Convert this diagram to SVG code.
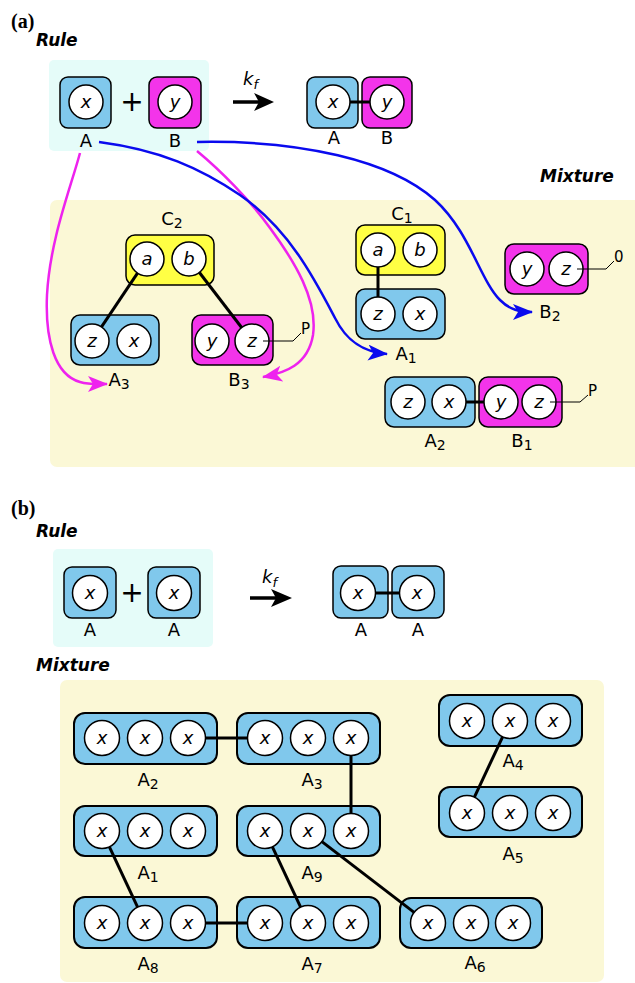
<svg xmlns="http://www.w3.org/2000/svg" width="635" height="983" viewBox="0 0 635 983">
<style>
.bg{fill:#fff}
.rulebox{fill:#e5fcf9}
.mixbox{fill:#fbf8d6}
.mb{fill:#80c8ec;stroke:#000;stroke-width:1.5}
.mm{fill:#f334ea;stroke:#000;stroke-width:1.5}
.my{fill:#ffff44;stroke:#000;stroke-width:1.5}
.mb2{fill:#80c8ec;stroke:#000;stroke-width:2}
.site{fill:#fff;stroke:#000;stroke-width:1.5}
.sl{font-family:"DejaVu Sans",sans-serif;font-style:italic;font-size:18px;text-anchor:middle}
.sl2{font-family:"DejaVu Sans",sans-serif;font-style:italic;font-size:18px;text-anchor:middle}
.lbl{font-family:"DejaVu Sans",sans-serif;font-size:18px;text-anchor:middle}
.lbl2{font-family:"DejaVu Sans",sans-serif;font-size:18px;text-anchor:middle}
.sub{font-size:14px}
.head{font-family:"DejaVu Sans",sans-serif;font-weight:bold;font-style:italic;font-size:17px}
.pl{font-family:"Liberation Serif",serif;font-weight:bold;font-size:20px}
.bond{stroke:#000;stroke-width:3;fill:none}
.tag{stroke:#000;stroke-width:1;fill:none}
.tagt{font-family:"DejaVu Sans",sans-serif;font-size:15px}
.plus{font-family:"DejaVu Sans",sans-serif;font-size:28px;text-anchor:middle}
.kf{font-family:"DejaVu Sans",sans-serif;font-style:italic;font-size:18px}
.kfs{font-size:13px}
.mag{stroke:#ee22ee;stroke-width:2.5;fill:none;marker-end:url(#mh)}
.blu{stroke:#0a0aee;stroke-width:2.5;fill:none;marker-end:url(#bh)}
</style>
<defs>
<marker id="mh" viewBox="0 0 20 16" refX="19" refY="8" markerWidth="20" markerHeight="16" markerUnits="userSpaceOnUse" orient="auto"><path d="M0,0 L20,8 L0,16 L5,8 Z" fill="#ee22ee"/></marker>
<marker id="bh" viewBox="0 0 20 16" refX="19" refY="8" markerWidth="20" markerHeight="16" markerUnits="userSpaceOnUse" orient="auto"><path d="M0,0 L20,8 L0,16 L5,8 Z" fill="#0a0aee"/></marker>
</defs>
<rect class="bg" x="0" y="0" width="635" height="983"/>

<!-- Panel (a) -->
<text class="pl" x="11" y="28">(a)</text>
<text class="head" x="36" y="46">Rule</text>
<rect class="rulebox" x="49" y="60" width="160" height="91" rx="5"/>
<text class="head" x="540" y="182">Mixture</text>
<rect class="mixbox" x="50" y="200" width="600" height="267" rx="7"/>

<g id="a-rule-A">
<rect class="mb" x="60" y="77" width="51" height="51" rx="8"/>
<circle class="site" cx="86" cy="102" r="17"/>
<text class="sl" x="86" y="108">x</text>
<text class="lbl" x="86" y="147">A</text>
</g>
<text class="plus" x="132" y="111">+</text>
<g id="a-rule-B">
<rect class="mm" x="149" y="77" width="52" height="51" rx="8"/>
<circle class="site" cx="175" cy="102" r="17"/>
<text class="sl" x="175" y="108">y</text>
<text class="lbl" x="175" y="147">B</text>
</g>
<g id="a-reaction">
<text class="kf" x="243" y="85">k<tspan class="kfs" dy="4">f</tspan></text>
<path d="M233,102 H262" stroke="#000" stroke-width="3.5"/>
<path d="M274,102 L254,93 L259,102 L254,111 Z" fill="#000"/>
</g>
<g id="a-prod-A">
<rect class="mb" x="307" y="77" width="51" height="51" rx="8"/>
<circle class="site" cx="333" cy="102" r="17"/>
<text class="sl" x="333" y="108">x</text>
<text class="lbl" x="334" y="144">A</text>
</g>
<g id="a-prod-B">
<rect class="mm" x="362" y="77" width="50" height="51" rx="8"/>
<circle class="site" cx="387" cy="102" r="17"/>
<text class="sl" x="387" y="108">y</text>
<text class="lbl" x="387" y="144">B</text>
</g>

<g id="a-C2">
<rect class="my" x="126" y="235" width="88" height="50" rx="9"/>
<circle class="site" cx="147" cy="259" r="17"/>
<circle class="site" cx="189" cy="259" r="17"/>
<text class="sl" x="147" y="265">a</text>
<text class="sl" x="189" y="265">b</text>
<text class="lbl" x="172" y="225">C<tspan class="sub" dy="3">2</tspan></text>
</g>
<g id="a-A3">
<rect class="mb" x="71" y="315" width="88" height="50" rx="9"/>
<circle class="site" cx="92" cy="341" r="17"/>
<circle class="site" cx="134" cy="341" r="17"/>
<text class="sl" x="92" y="347">z</text>
<text class="sl" x="134" y="347">x</text>
<text class="lbl" x="119" y="386">A<tspan class="sub" dy="3">3</tspan></text>
</g>
<g id="a-B3">
<rect class="mm" x="192" y="315" width="81" height="50" rx="9"/>
<circle class="site" cx="212" cy="341" r="17"/>
<circle class="site" cx="252" cy="341" r="17"/>
<text class="sl" x="212" y="347">y</text>
<text class="sl" x="252" y="347">z</text>
<path class="tag" d="M263,341 H293 L301,333"/>
<text class="tagt" x="301" y="334">P</text>
<text class="lbl" x="239" y="386">B<tspan class="sub" dy="3">3</tspan></text>
</g>
<g id="a-C1">
<rect class="my" x="356" y="225" width="89" height="50" rx="9"/>
<circle class="site" cx="378" cy="250" r="17"/>
<circle class="site" cx="420" cy="250" r="17"/>
<text class="sl" x="378" y="256">a</text>
<text class="sl" x="420" y="256">b</text>
<text class="lbl" x="402" y="220">C<tspan class="sub" dy="3">1</tspan></text>
</g>
<g id="a-A1">
<rect class="mb" x="356" y="289" width="89" height="50" rx="9"/>
<circle class="site" cx="378" cy="314" r="17"/>
<circle class="site" cx="420" cy="314" r="17"/>
<text class="sl" x="378" y="320">z</text>
<text class="sl" x="420" y="320">x</text>
<text class="lbl" x="406" y="360">A<tspan class="sub" dy="3">1</tspan></text>
</g>
<g id="a-B2">
<rect class="mm" x="505" y="244" width="83" height="50" rx="9"/>
<circle class="site" cx="527" cy="269" r="17"/>
<circle class="site" cx="566" cy="269" r="17"/>
<text class="sl" x="527" y="275">y</text>
<text class="sl" x="566" y="275">z</text>
<path class="tag" d="M577,269 H606 L614,261"/>
<text class="tagt" x="614" y="262">0</text>
<text class="lbl" x="550" y="318">B<tspan class="sub" dy="3">2</tspan></text>
</g>
<g id="a-A2">
<rect class="mb" x="385" y="377" width="90" height="50" rx="9"/>
<circle class="site" cx="408" cy="402" r="17"/>
<circle class="site" cx="449" cy="402" r="17"/>
<text class="sl" x="408" y="408">z</text>
<text class="sl" x="449" y="408">x</text>
<text class="lbl" x="435" y="447">A<tspan class="sub" dy="3">2</tspan></text>
</g>
<g id="a-B1">
<rect class="mm" x="479" y="377" width="83" height="50" rx="9"/>
<circle class="site" cx="501" cy="402" r="17"/>
<circle class="site" cx="539" cy="402" r="17"/>
<text class="sl" x="501" y="408">y</text>
<text class="sl" x="539" y="408">z</text>
<path class="tag" d="M550,402 H580 L588,395"/>
<text class="tagt" x="588" y="396">P</text>
<text class="lbl" x="522" y="447">B<tspan class="sub" dy="3">1</tspan></text>
</g>

<g id="a-connectors">
<path class="bond" d="M350,102 H370"/>
<path class="bond" d="M137.5,273.1 L101.5,326.9"/>
<path class="bond" d="M199.4,272.5 L241.6,327.5"/>
<path class="bond" d="M378,267 V297"/>
<path class="bond" d="M466,402 H484"/>
<path class="mag" d="M80,153 C70,190 50,240 47,295 C45,340 55,375 80,382 C90,385 98,384 107,384"/>
<path class="mag" d="M197,151 C220,170 250,200 270,228 C295,262 318,300 313,335 C308,365 285,373 263,377"/>
<path class="blu" d="M99,142 C160,150 200,168 240,195 C290,230 315,280 335,318 C345,338 360,352 387,354"/>
<path class="blu" d="M197,142 C300,140 390,160 435,200 C470,232 480,280 500,300 C510,310 520,312 532,312"/>
</g>

<!-- Panel (b) -->
<text class="pl" x="11" y="515">(b)</text>
<text class="head" x="36" y="537">Rule</text>
<rect class="rulebox" x="53" y="549" width="160" height="98" rx="5"/>
<text class="head" x="36" y="671">Mixture</text>
<rect class="mixbox" x="60" y="680" width="544" height="302" rx="7"/>

<g id="b-rule-A1">
<rect class="mb" x="64" y="567" width="52" height="51" rx="8"/>
<circle class="site" cx="90" cy="593" r="17.5"/>
<text class="sl" x="90" y="599">x</text>
<text class="lbl2" x="90" y="636">A</text>
</g>
<text class="plus" x="132" y="602">+</text>
<g id="b-rule-A2">
<rect class="mb" x="148" y="567" width="52" height="51" rx="8"/>
<circle class="site" cx="174" cy="593" r="17.5"/>
<text class="sl" x="174" y="599">x</text>
<text class="lbl2" x="174" y="636">A</text>
</g>
<g id="b-reaction">
<text class="kf" x="262" y="583">k<tspan class="kfs" dy="4">f</tspan></text>
<path d="M250,598 H280" stroke="#000" stroke-width="3.5"/>
<path d="M292,598 L271,589 L276,598 L271,607 Z" fill="#000"/>
</g>
<g id="b-prod-A1">
<rect class="mb" x="333" y="566" width="55" height="52" rx="8"/>
<circle class="site" cx="358" cy="593" r="17.5"/>
<text class="sl" x="358" y="599">x</text>
<text class="lbl2" x="361" y="636">A</text>
</g>
<g id="b-prod-A2">
<rect class="mb" x="392" y="566" width="52" height="52" rx="8"/>
<circle class="site" cx="417" cy="593" r="17.5"/>
<text class="sl" x="417" y="599">x</text>
<text class="lbl2" x="418" y="636">A</text>
</g>

<g id="b-A2">
<rect class="mb2" x="74" y="713" width="143" height="51" rx="11"/>
<circle class="site" cx="102" cy="738" r="17.5"/><circle class="site" cx="145" cy="738" r="17.5"/><circle class="site" cx="188" cy="738" r="17.5"/>
<text class="sl2" x="102" y="744">x</text><text class="sl2" x="145" y="744">x</text><text class="sl2" x="188" y="744">x</text>
<text class="lbl2" x="148" y="786">A<tspan class="sub" dy="3">2</tspan></text>
</g>
<g id="b-A3">
<rect class="mb2" x="237" y="713" width="143" height="51" rx="11"/>
<circle class="site" cx="265" cy="738" r="17.5"/><circle class="site" cx="308" cy="738" r="17.5"/><circle class="site" cx="351" cy="738" r="17.5"/>
<text class="sl2" x="265" y="744">x</text><text class="sl2" x="308" y="744">x</text><text class="sl2" x="351" y="744">x</text>
<text class="lbl2" x="312" y="786">A<tspan class="sub" dy="3">3</tspan></text>
</g>
<g id="b-A1">
<rect class="mb2" x="74" y="806" width="143" height="50" rx="11"/>
<circle class="site" cx="102" cy="831" r="17.5"/><circle class="site" cx="145" cy="831" r="17.5"/><circle class="site" cx="188" cy="831" r="17.5"/>
<text class="sl2" x="102" y="837">x</text><text class="sl2" x="145" y="837">x</text><text class="sl2" x="188" y="837">x</text>
<text class="lbl2" x="148" y="879">A<tspan class="sub" dy="3">1</tspan></text>
</g>
<g id="b-A9">
<rect class="mb2" x="237" y="806" width="143" height="50" rx="11"/>
<circle class="site" cx="265" cy="831" r="17.5"/><circle class="site" cx="308" cy="831" r="17.5"/><circle class="site" cx="351" cy="831" r="17.5"/>
<text class="sl2" x="265" y="837">x</text><text class="sl2" x="308" y="837">x</text><text class="sl2" x="351" y="837">x</text>
<text class="lbl2" x="312" y="879">A<tspan class="sub" dy="3">9</tspan></text>
</g>
<g id="b-A8">
<rect class="mb2" x="74" y="897" width="143" height="51" rx="11"/>
<circle class="site" cx="102" cy="923" r="17.5"/><circle class="site" cx="145" cy="923" r="17.5"/><circle class="site" cx="188" cy="923" r="17.5"/>
<text class="sl2" x="102" y="929">x</text><text class="sl2" x="145" y="929">x</text><text class="sl2" x="188" y="929">x</text>
<text class="lbl2" x="148" y="970">A<tspan class="sub" dy="3">8</tspan></text>
</g>
<g id="b-A7">
<rect class="mb2" x="237" y="897" width="143" height="51" rx="11"/>
<circle class="site" cx="265" cy="923" r="17.5"/><circle class="site" cx="308" cy="923" r="17.5"/><circle class="site" cx="351" cy="923" r="17.5"/>
<text class="sl2" x="265" y="929">x</text><text class="sl2" x="308" y="929">x</text><text class="sl2" x="351" y="929">x</text>
<text class="lbl2" x="312" y="970">A<tspan class="sub" dy="3">7</tspan></text>
</g>
<g id="b-A4">
<rect class="mb2" x="439" y="695" width="143" height="51" rx="11"/>
<circle class="site" cx="467" cy="721" r="17.5"/><circle class="site" cx="510" cy="721" r="17.5"/><circle class="site" cx="553" cy="721" r="17.5"/>
<text class="sl2" x="467" y="727">x</text><text class="sl2" x="510" y="727">x</text><text class="sl2" x="553" y="727">x</text>
<text class="lbl2" x="513" y="767">A<tspan class="sub" dy="3">4</tspan></text>
</g>
<g id="b-A5">
<rect class="mb2" x="439" y="787" width="143" height="50" rx="11"/>
<circle class="site" cx="467" cy="813" r="17.5"/><circle class="site" cx="510" cy="813" r="17.5"/><circle class="site" cx="553" cy="813" r="17.5"/>
<text class="sl2" x="467" y="819">x</text><text class="sl2" x="510" y="819">x</text><text class="sl2" x="553" y="819">x</text>
<text class="lbl2" x="513" y="860">A<tspan class="sub" dy="3">5</tspan></text>
</g>
<g id="b-A6">
<rect class="mb2" x="400" y="898" width="142" height="50" rx="11"/>
<circle class="site" cx="428" cy="923" r="17.5"/><circle class="site" cx="471" cy="923" r="17.5"/><circle class="site" cx="513" cy="923" r="17.5"/>
<text class="sl2" x="428" y="929">x</text><text class="sl2" x="471" y="929">x</text><text class="sl2" x="513" y="929">x</text>
<text class="lbl2" x="475" y="969">A<tspan class="sub" dy="3">6</tspan></text>
</g>

<g id="b-connectors">
<path class="bond" d="M375.5,593 H399.5"/>
<path class="bond" d="M205.5,738 H247.5"/>
<path class="bond" d="M351,755.5 V813.5"/>
<path class="bond" d="M109.4,846.9 L137.6,907.1"/>
<path class="bond" d="M205.5,923 H247.5"/>
<path class="bond" d="M272.4,846.9 L300.6,907.1"/>
<path class="bond" d="M321.9,841.6 L414.1,912.4"/>
<path class="bond" d="M502.6,736.9 L474.4,797.1"/>
</g>
</svg>
